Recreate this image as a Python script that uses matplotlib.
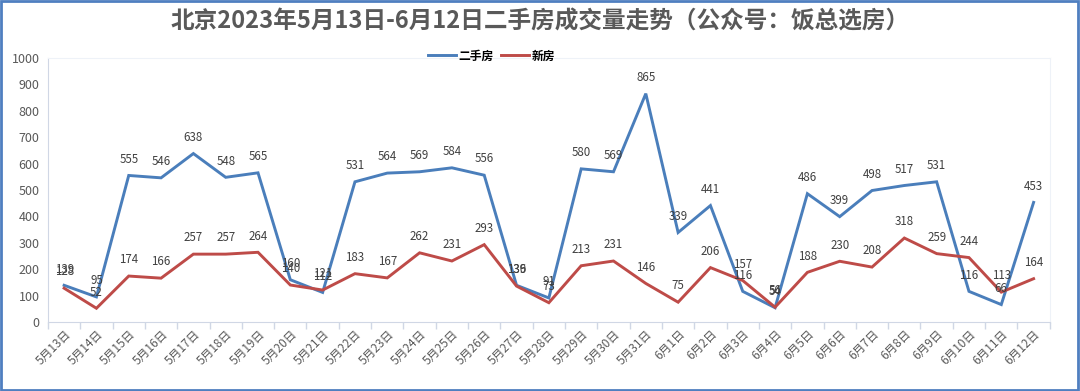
import matplotlib.pyplot as plt
from matplotlib.patches import Rectangle

plt.rcParams['font.family'] = ['Noto Sans CJK SC', 'DejaVu Sans']

dates = ['5月13日', '5月14日', '5月15日', '5月16日', '5月17日', '5月18日', '5月19日',
         '5月20日', '5月21日', '5月22日', '5月23日', '5月24日', '5月25日', '5月26日',
         '5月27日', '5月28日', '5月29日', '5月30日', '5月31日', '6月1日', '6月2日',
         '6月3日', '6月4日', '6月5日', '6月6日', '6月7日', '6月8日', '6月9日',
         '6月10日', '6月11日', '6月12日']
second_hand = [139, 95, 555, 546, 638, 548, 565, 160, 112, 531, 564, 569, 584, 556,
               139, 91, 580, 569, 865, 339, 441, 116, 54, 486, 399, 498, 517, 531,
               116, 66, 453]
new_house = [128, 52, 174, 166, 257, 257, 264, 140, 121, 183, 167, 262, 231, 293,
             136, 73, 213, 231, 146, 75, 206, 157, 56, 188, 230, 208, 318, 259,
             244, 113, 164]

blue = '#4A7EBB'
red = '#BE4B48'
gray = '#595959'

fig = plt.figure(figsize=(10.8, 3.91), dpi=100)
ax = fig.add_axes([0.0444, 0.1765, 0.9276, 0.6752])

x = list(range(len(dates)))
ax.plot(x, second_hand, color=blue, lw=2.1, label='二手房', solid_joinstyle='miter')
ax.plot(x, new_house, color=red, lw=2.1, label='新房', solid_joinstyle='miter')

# data labels above each point
for i, v in enumerate(second_hand):
    ax.annotate(str(v), (i, v), xytext=(0, 7), textcoords='offset points',
                ha='center', va='bottom', fontsize=8.3, color='#404040')
for i, v in enumerate(new_house):
    ax.annotate(str(v), (i, v), xytext=(0, 7), textcoords='offset points',
                ha='center', va='bottom', fontsize=8.3, color='#404040')

ax.set_xlim(-0.5, len(dates) - 0.5)
ax.set_ylim(0, 1000)
ax.set_yticks(range(0, 1001, 100))
ax.tick_params(axis='y', length=0, labelsize=9, labelcolor=gray, pad=6)

ax.set_xticks(x)
ax.set_xticklabels(dates, rotation=45, ha='right', rotation_mode='anchor',
                   fontsize=8.5, color=gray)
ax.tick_params(axis='x', length=0, pad=4)
ax.set_xticks([i - 0.5 for i in range(len(dates) + 1)], minor=True)
ax.tick_params(axis='x', which='minor', length=5, color='#D0D7E5', width=1)

for s in ['top', 'right']:
    ax.spines[s].set_color('#EEF2F8')
ax.spines['left'].set_color('#D0D7E5')
ax.spines['bottom'].set_color('#D0D7E5')

fig.text(0.5, 0.944, '北京2023年5月13日-6月12日二手房成交量走势（公众号：饭总选房）',
         ha='center', va='center', fontsize=17, fontweight='bold', color=gray)

leg = fig.legend(loc='center', bbox_to_anchor=(0.455, 0.857), ncol=2, frameon=False,
                 fontsize=8.5, handlelength=2.4, columnspacing=0.6, handletextpad=0.2)
for t in leg.get_texts():
    t.set_fontweight('bold')
    t.set_color('black')

fig.patches.append(Rectangle((0.001, 0.002), 0.997, 0.995, transform=fig.transFigure,
                             fill=False, edgecolor='#4F7FC0', lw=2))

fig.savefig('out.png', dpi=100)
